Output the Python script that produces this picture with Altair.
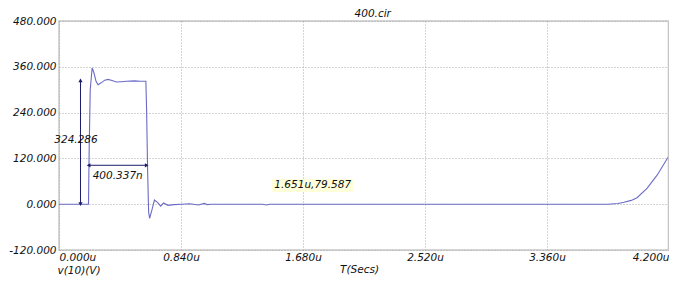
import altair as alt
import pandas as pd

# waveform v(10) in volts vs time in microseconds
T_US = [0.000, 0.190, 0.203, 0.208, 0.215, 0.228, 0.240, 0.255, 0.269, 0.290,
        0.315, 0.338, 0.365, 0.395, 0.430, 0.464, 0.520, 0.560, 0.598, 0.603,
        0.610, 0.617, 0.624, 0.640, 0.657, 0.680, 0.700, 0.720, 0.750, 0.790,
        0.840, 0.900, 0.960, 1.000, 1.020, 1.050, 1.100, 1.400, 1.430, 1.450,
        1.500, 2.000, 3.000, 3.700, 3.775, 3.850, 3.890, 3.940, 3.980, 4.050,
        4.118, 4.200]
V_VOLTS = [0, 0, 0, 150, 300, 357, 345, 322, 313, 318,
           325, 327, 324, 320, 321, 322, 323, 322, 322, 250,
           90, -20, -37, -15, 11, 4, -5, 3, -3, -1,
           0, 1, -2, 2, -1, 0, 0, 0, -2, 0,
           0, 0, 0, 0, 0, 2, 5, 10, 17, 42,
           76, 127]
assert len(T_US) == len(V_VOLTS)

X_TICKS = [0.0, 0.84, 1.68, 2.52, 3.36, 4.2]
Y_TICKS = [-120, 0, 120, 240, 360, 480]

# measurement annotations
V_ARROW_T = [0.148]
V_ARROW_LO = [0.0]
V_ARROW_HI = [324.286]
H_ARROW_V = [102.0]
H_ARROW_T0 = [0.204]
H_ARROW_T1 = [0.604]
LABELS = ["324.286", "400.337n"]
LABEL_T = [0.117, 0.404]
LABEL_V = [167.0, 73.0]
CURSOR_TEXT = ["1.651u,79.587"]
CURSOR_T = [1.747]
CURSOR_V = [49.0]
CURSOR_BOX_T = [1.465, 2.030]
CURSOR_BOX_V = [32.0, 66.0]
TITLE_TEXT = ["400.cir"]
TITLE_T = [2.16]
TITLE_V = [498.0]

FONT = "DejaVu Sans"
FS = 10.5
LINE_COLOR = "#6b6bc6"
ARROW_COLOR = "#1c1c6c"
TEXT_COLOR = "#111111"

xs = alt.Scale(domain=[0, 4.2], nice=False, zero=False)
ys = alt.Scale(domain=[-120, 480], nice=False, zero=False)

wave = pd.DataFrame({"t": T_US, "v": V_VOLTS})

x_axis = alt.Axis(values=X_TICKS, labelExpr="format(datum.value, '.3f') + 'u'",
                  title="T(Secs)", titleX=300, titleY=19, titleAlign="center",
                  titleBaseline="middle", labelFlush=True, tickSize=0,
                  labelPadding=2, domain=False,
                  grid=True, gridDash=[1, 2], gridColor="#a8a8a8")
y_axis = alt.Axis(values=Y_TICKS,
                  labelExpr="(datum.value < 0 ? '-' : '') + format(abs(datum.value), '.3f')",
                  title="v(10)(V)", titleAngle=0,
                  titleX=-2, titleY=249, titleAlign="left", titleBaseline="middle",
                  tickSize=0, labelPadding=3, domain=False,
                  grid=True, gridDash=[1, 2], gridColor="#a8a8a8")

line = alt.Chart(wave).mark_line(color=LINE_COLOR, strokeWidth=1.1, clip=True).encode(
    x=alt.X("t:Q", scale=xs, axis=x_axis),
    y=alt.Y("v:Q", scale=ys, axis=y_axis),
)

right_border = alt.Chart(pd.DataFrame({"t": [4.2]})).mark_rule(
    color="#c4c4c4", strokeWidth=2.5).encode(x=alt.X("t:Q", scale=xs))

box_df = pd.DataFrame({"t0": [CURSOR_BOX_T[0]], "t1": [CURSOR_BOX_T[1]],
                       "v0": [CURSOR_BOX_V[0]], "v1": [CURSOR_BOX_V[1]]})
box = alt.Chart(box_df).mark_rect(color="#ffffdc").encode(
    x=alt.X("t0:Q", scale=xs), x2="t1:Q",
    y=alt.Y("v0:Q", scale=ys), y2="v1:Q")

va_df = pd.DataFrame({"t": V_ARROW_T, "lo": V_ARROW_LO, "hi": V_ARROW_HI})
v_arrow = alt.Chart(va_df).mark_rule(color=ARROW_COLOR, strokeWidth=1).encode(
    x=alt.X("t:Q", scale=xs), y=alt.Y("lo:Q", scale=ys), y2="hi:Q")
v_head_up = alt.Chart(va_df).mark_point(shape="triangle-up", filled=True, size=18,
                                        color=ARROW_COLOR, opacity=1).encode(
    x=alt.X("t:Q", scale=xs), y=alt.Y("hi:Q", scale=ys))
v_head_dn = alt.Chart(va_df).mark_point(shape="triangle-down", filled=True, size=18,
                                        color=ARROW_COLOR, opacity=1).encode(
    x=alt.X("t:Q", scale=xs), y=alt.Y("lo:Q", scale=ys))

ha_df = pd.DataFrame({"v": H_ARROW_V, "t0": H_ARROW_T0, "t1": H_ARROW_T1})
h_arrow = alt.Chart(ha_df).mark_rule(color=ARROW_COLOR, strokeWidth=1).encode(
    y=alt.Y("v:Q", scale=ys), x=alt.X("t0:Q", scale=xs), x2="t1:Q")
h_head_l = alt.Chart(ha_df).mark_point(shape="triangle-left", filled=True, size=18,
                                       color=ARROW_COLOR, opacity=1).encode(
    x=alt.X("t0:Q", scale=xs), y=alt.Y("v:Q", scale=ys))
h_head_r = alt.Chart(ha_df).mark_point(shape="triangle-right", filled=True, size=18,
                                       color=ARROW_COLOR, opacity=1).encode(
    x=alt.X("t1:Q", scale=xs), y=alt.Y("v:Q", scale=ys))

text_style = dict(font=FONT, fontSize=FS, fontStyle="italic", color=TEXT_COLOR)

lab_df = pd.DataFrame({"label": LABELS, "t": LABEL_T, "v": LABEL_V})
labels = alt.Chart(lab_df).mark_text(**text_style).encode(
    x=alt.X("t:Q", scale=xs), y=alt.Y("v:Q", scale=ys), text="label:N")

cur_df = pd.DataFrame({"label": CURSOR_TEXT, "t": CURSOR_T, "v": CURSOR_V})
cursor = alt.Chart(cur_df).mark_text(**text_style).encode(
    x=alt.X("t:Q", scale=xs), y=alt.Y("v:Q", scale=ys), text="label:N")

ttl_df = pd.DataFrame({"label": TITLE_TEXT, "t": TITLE_T, "v": TITLE_V})
title = alt.Chart(ttl_df).mark_text(**text_style).encode(
    x=alt.X("t:Q", scale=xs), y=alt.Y("v:Q", scale=ys), text="label:N")

chart = alt.layer(
    box, line, right_border, v_arrow, v_head_up, v_head_dn,
    h_arrow, h_head_l, h_head_r, labels, cursor, title
).properties(
    width=610, height=229,
    autosize=alt.AutoSizeParams(type="none"),
    padding={"left": 51, "top": 13, "right": 0, "bottom": 27},
).configure_view(
    stroke="#c8c8c8", strokeWidth=1.5
).configure_axis(
    labelFont=FONT, labelFontSize=FS, labelFontStyle="italic", labelColor=TEXT_COLOR,
    titleFont=FONT, titleFontSize=FS, titleFontStyle="italic",
    titleFontWeight="normal", titleColor=TEXT_COLOR,
)

chart.save("out.html", embed_options={"renderer": "svg", "actions": False})
